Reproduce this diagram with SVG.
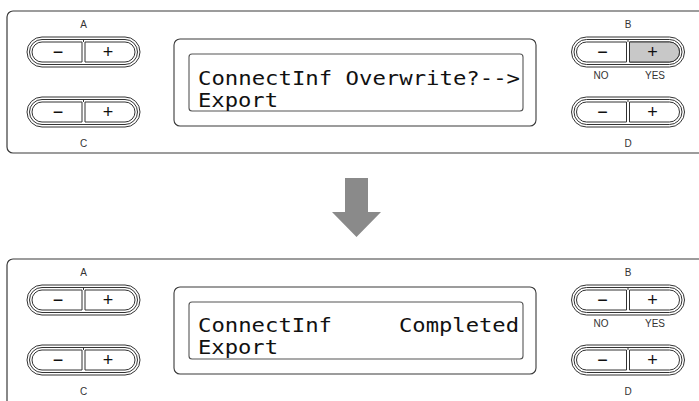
<svg xmlns="http://www.w3.org/2000/svg" xmlns:xlink="http://www.w3.org/1999/xlink" width="699" height="401" viewBox="0 0 699 401">
<style>
.panel{fill:none;stroke:#3a3a3a;stroke-width:1.2}
.disp{fill:#fff;stroke:#3a3a3a;stroke-width:1.1}
.lcd{fill:#fff;stroke:#555;stroke-width:1.1}
.lbl{font-family:"Liberation Sans",Arial,sans-serif;font-size:10px;fill:#333;text-anchor:middle}
.sign{font-family:"Liberation Sans",Arial,sans-serif;font-size:18px;fill:#111;text-anchor:middle}
.lcdt{font-family:"DejaVu Sans Mono","Liberation Mono",monospace;font-size:20px;fill:#111}
.ring{fill:#fff;stroke:#333;stroke-width:1}
.key{fill:#fff;stroke:#333;stroke-width:1}
</style>
<defs>
<g id="btn">
<rect class="ring" x="-56.5" y="-15" width="113" height="30" rx="15"/>
<rect class="ring" x="-54" y="-12.5" width="108" height="25" rx="12.5"/>
<path class="key" d="M -1.5 -10 H -41.5 A 10 10 0 0 0 -41.5 10 H -1.5 Z"/>
<path class="key" d="M 1.5 -10 H 41.5 A 10 10 0 0 1 41.5 10 H 1.5 Z"/>
<line x1="0" y1="-12.5" x2="0" y2="-10" stroke="#333" stroke-width="1"/>
</g>
<g id="screen">
<rect class="disp" x="174" y="39" width="362" height="87" rx="6"/>
<rect class="lcd" x="189" y="54" width="334" height="57" rx="3"/>
</g>
</defs>

<g id="top-panel">
<path class="panel" d="M 699 11 H 13 A 6 6 0 0 0 7 17 V 147 A 6 6 0 0 0 13 153 H 699"/>
<g id="top-btnA">
<text class="lbl" x="83.5" y="28">A</text>
<use xlink:href="#btn" x="83.5" y="52"/>
<text class="sign" x="58" y="58">−</text>
<text class="sign" x="108" y="58">+</text>
</g>
<g id="top-btnC">
<use xlink:href="#btn" x="83.5" y="112"/>
<text class="sign" x="58" y="118">−</text>
<text class="sign" x="108" y="118">+</text>
<text class="lbl" x="83.5" y="147">C</text>
</g>
<g id="top-display">
<use xlink:href="#screen"/>
<text class="lcdt" x="198" y="85" textLength="322" lengthAdjust="spacingAndGlyphs">ConnectInf Overwrite?--&gt;</text>
<text class="lcdt" x="198" y="107" textLength="80" lengthAdjust="spacingAndGlyphs">Export</text>
</g>
<g id="top-btnB">
<text class="lbl" x="628" y="28">B</text>
<use xlink:href="#btn" x="628" y="52"/>
<path d="M 629.5 42 H 669.5 A 10 10 0 0 1 669.5 62 H 629.5 Z" fill="#c8c8c8" stroke="#333" stroke-width="1"/>
<text class="sign" x="602.5" y="58">−</text>
<text class="sign" x="652.5" y="58">+</text>
<text class="lbl" x="601" y="79">NO</text>
<text class="lbl" x="655" y="79">YES</text>
</g>
<g id="top-btnD">
<use xlink:href="#btn" x="628" y="112"/>
<text class="sign" x="602.5" y="118">−</text>
<text class="sign" x="652.5" y="118">+</text>
<text class="lbl" x="628" y="147">D</text>
</g>
</g>

<g id="connectors">
<path id="arrow" d="M 345 178 H 368 V 212 H 381 L 356.5 237 L 332 212 H 345 Z" fill="#8a8a8a"/>
</g>

<g id="bottom-panel" transform="translate(0,248)">
<path class="panel" d="M 699 11 H 13 A 6 6 0 0 0 7 17 V 160"/>
<g id="bot-btnA">
<text class="lbl" x="83.5" y="28">A</text>
<use xlink:href="#btn" x="83.5" y="52"/>
<text class="sign" x="58" y="58">−</text>
<text class="sign" x="108" y="58">+</text>
</g>
<g id="bot-btnC">
<use xlink:href="#btn" x="83.5" y="112"/>
<text class="sign" x="58" y="118">−</text>
<text class="sign" x="108" y="118">+</text>
<text class="lbl" x="83.5" y="147">C</text>
</g>
<g id="bot-display">
<use xlink:href="#screen"/>
<text class="lcdt" x="198" y="84" textLength="134" lengthAdjust="spacingAndGlyphs">ConnectInf</text>
<text class="lcdt" x="399" y="84" textLength="120" lengthAdjust="spacingAndGlyphs">Completed</text>
<text class="lcdt" x="198" y="106" textLength="80" lengthAdjust="spacingAndGlyphs">Export</text>
</g>
<g id="bot-btnB">
<text class="lbl" x="628" y="28">B</text>
<use xlink:href="#btn" x="628" y="52"/>
<text class="sign" x="602.5" y="58">−</text>
<text class="sign" x="652.5" y="58">+</text>
<text class="lbl" x="601" y="79">NO</text>
<text class="lbl" x="655" y="79">YES</text>
</g>
<g id="bot-btnD">
<use xlink:href="#btn" x="628" y="112"/>
<text class="sign" x="602.5" y="118">−</text>
<text class="sign" x="652.5" y="118">+</text>
<text class="lbl" x="628" y="147">D</text>
</g>
</g>
</svg>
